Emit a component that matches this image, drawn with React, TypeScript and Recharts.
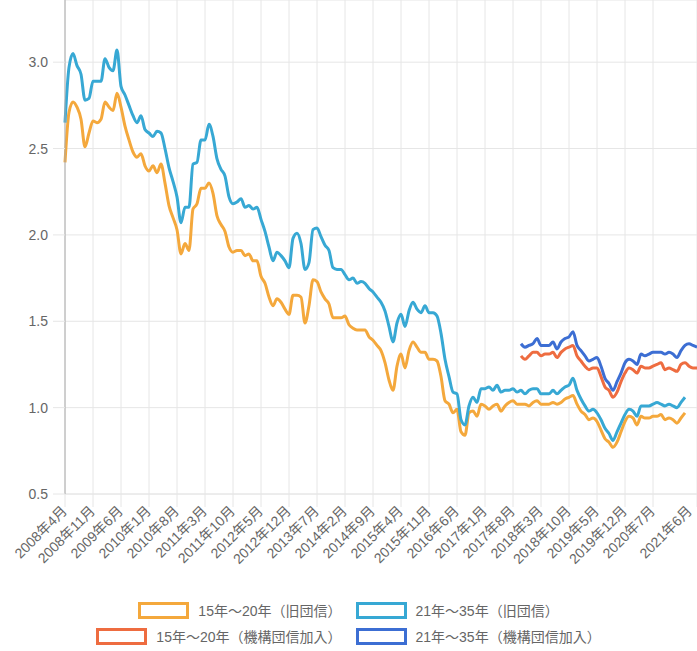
import { LineChart, Line, XAxis, YAxis, CartesianGrid, Legend } from 'recharts'

const FONT = '"Liberation Sans", Arial, "Noto Sans CJK JP", sans-serif'

// monthly categories, 2008年4月 .. 2021年6月
const START_YEAR = 2008
const START_MONTH = 4
const MONTH_COUNT = 159

const MONTHS: string[] = []
for (let i = 0; i < MONTH_COUNT; i++) {
  const m = START_MONTH - 1 + i
  MONTHS.push(`${START_YEAR + Math.floor(m / 12)}年${(m % 12) + 1}月`)
}

const TICK_LABELS = [
  '2008年4月', '2008年11月', '2009年6月', '2010年1月', '2010年8月', '2011年3月',
  '2011年10月', '2012年5月', '2012年12月', '2013年7月', '2014年2月', '2014年9月',
  '2015年4月', '2015年11月', '2016年6月', '2017年1月', '2017年8月', '2018年3月',
  '2018年10月', '2019年5月', '2019年12月', '2020年7月', '2021年6月',
]

const Y_TICKS = [0.5, 1.0, 1.5, 2.0, 2.5, 3.0]

// 旧団信: 2008年4月 〜 2021年3月
const OLD_15_20 = [
  2.42, 2.71, 2.77, 2.74, 2.67, 2.51, 2.59, 2.66, 2.65, 2.67, 2.77, 2.74,
  2.72, 2.82, 2.74, 2.63, 2.55, 2.48, 2.45, 2.47, 2.40, 2.37, 2.40, 2.36,
  2.41, 2.30, 2.17, 2.10, 2.03, 1.89, 1.95, 1.91, 2.15, 2.18, 2.27, 2.27,
  2.30, 2.24, 2.11, 2.06, 2.02, 1.93, 1.90, 1.91, 1.91, 1.88, 1.89, 1.85,
  1.85, 1.76, 1.72, 1.64, 1.59, 1.63, 1.61, 1.57, 1.54, 1.65, 1.65, 1.64,
  1.49, 1.59, 1.74, 1.73, 1.67, 1.63, 1.60, 1.52, 1.52, 1.52, 1.53, 1.48,
  1.46, 1.45, 1.45, 1.45, 1.41, 1.39, 1.36, 1.33, 1.26, 1.16, 1.10, 1.24,
  1.31, 1.23, 1.33, 1.38, 1.35, 1.32, 1.32, 1.28, 1.28, 1.27, 1.18, 1.04,
  1.02, 0.97, 0.99, 0.86, 0.84, 0.97, 0.98, 0.95, 1.02, 1.01, 0.99, 1.01,
  1.02, 0.98, 1.01, 1.03, 1.04, 1.02, 1.02, 1.02, 1.01, 1.03, 1.04, 1.02,
  1.02, 1.02, 1.03, 1.02, 1.03, 1.05, 1.06, 1.07, 1.02, 0.98, 0.96, 0.93,
  0.94, 0.92, 0.87, 0.82, 0.80, 0.77, 0.80, 0.86, 0.92, 0.95, 0.94, 0.90,
  0.95, 0.94, 0.94, 0.95, 0.95, 0.96, 0.93, 0.94, 0.93, 0.91, 0.94, 0.97,
]

const OLD_21_35 = [
  2.65, 2.97, 3.05, 2.98, 2.93, 2.78, 2.79, 2.89, 2.89, 2.89, 3.02, 2.97,
  2.95, 3.07, 2.86, 2.81, 2.75, 2.69, 2.65, 2.69, 2.61, 2.59, 2.57, 2.60,
  2.59, 2.50, 2.39, 2.31, 2.22, 2.07, 2.16, 2.16, 2.41, 2.42, 2.55, 2.55,
  2.64, 2.57, 2.44, 2.38, 2.34, 2.22, 2.18, 2.19, 2.21, 2.16, 2.17, 2.15,
  2.16, 2.09, 2.02, 1.93, 1.85, 1.90, 1.88, 1.85, 1.81, 1.98, 2.01, 1.95,
  1.80, 1.84, 2.03, 2.04, 1.99, 1.94, 1.91, 1.81, 1.80, 1.80, 1.77, 1.74,
  1.75, 1.72, 1.73, 1.72, 1.69, 1.67, 1.64, 1.61, 1.56, 1.47, 1.38, 1.49,
  1.54, 1.47, 1.56, 1.61, 1.57, 1.55, 1.59, 1.55, 1.55, 1.53, 1.43, 1.28,
  1.18, 1.09, 1.08, 0.93, 0.90, 1.01, 1.06, 1.03, 1.11, 1.11, 1.12, 1.10,
  1.13, 1.09, 1.10, 1.10, 1.11, 1.09, 1.10, 1.08, 1.10, 1.11, 1.11, 1.08,
  1.08, 1.08, 1.10, 1.08, 1.10, 1.12, 1.13, 1.17, 1.10, 1.05, 1.01, 0.98,
  0.99, 0.97, 0.93, 0.88, 0.85, 0.81, 0.86, 0.91, 0.96, 0.99, 0.98, 0.95,
  1.01, 1.01, 1.01, 1.02, 1.03, 1.02, 1.01, 1.02, 1.01, 1.00, 1.03, 1.06,
]

// 機構団信加入: 2017年10月 〜 2021年6月
const NEW_START = '2017年10月'

const NEW_15_20 = [
  1.30, 1.28, 1.30, 1.32, 1.32, 1.30, 1.31, 1.31, 1.32, 1.29, 1.32, 1.34,
  1.35, 1.36, 1.30, 1.27, 1.24, 1.22, 1.23, 1.23, 1.18, 1.12, 1.10, 1.06,
  1.09, 1.15, 1.20, 1.23, 1.22, 1.20, 1.24, 1.23, 1.23, 1.24, 1.25, 1.26,
  1.22, 1.23, 1.22, 1.21, 1.25, 1.26, 1.24, 1.23, 1.23,
]

const NEW_21_35 = [
  1.37, 1.35, 1.36, 1.37, 1.40, 1.36, 1.36, 1.36, 1.38, 1.34, 1.38, 1.40,
  1.41, 1.44, 1.36, 1.33, 1.30, 1.27, 1.28, 1.29, 1.24, 1.17, 1.14, 1.10,
  1.15, 1.20, 1.26, 1.28, 1.27, 1.25, 1.31, 1.30, 1.31, 1.32, 1.32, 1.32,
  1.31, 1.32, 1.31, 1.29, 1.33, 1.36, 1.37, 1.36, 1.35,
]

const SERIES = [
  { key: 'old1520', name: '15年～20年（旧団信）', color: '#f4a83c' },
  { key: 'old2135', name: '21年～35年（旧団信）', color: '#37a8d4' },
  { key: 'new1520', name: '15年～20年（機構団信加入）', color: '#ee6c40' },
  { key: 'new2135', name: '21年～35年（機構団信加入）', color: '#3c6ed3' },
]

const LEGEND_ROWS = [['old1520', 'old2135'], ['new1520', 'new2135']]

const newOffset = MONTHS.indexOf(NEW_START)

const data = MONTHS.map((label, i) => ({
  label,
  old1520: OLD_15_20[i] ?? null,
  old2135: OLD_21_35[i] ?? null,
  new1520: i >= newOffset ? NEW_15_20[i - newOffset] ?? null : null,
  new2135: i >= newOffset ? NEW_21_35[i - newOffset] ?? null : null,
}))

// rotated month label; the last one is pulled in so it stays inside the page
function XTick({ x, y, payload }: any) {
  const tx = Math.min(x, 690)
  return (
    <g transform={`translate(${tx},${y})`}>
      <text x={0} y={0} dy={4} textAnchor="end" transform="rotate(-45)" fill="#666" fontSize={14}>
        {payload.value}
      </text>
    </g>
  )
}

function LegendRows() {
  return (
    <div style={{ height: 60, paddingTop: 6, boxSizing: 'border-box' }}>
      {LEGEND_ROWS.map((row, r) => (
        <div
          key={r}
          style={{ display: 'flex', justifyContent: 'center', alignItems: 'center', height: 26, gap: 14 }}
        >
          {row.map((key) => {
            const s = SERIES.find((d) => d.key === key)!
            return (
              <div key={key} style={{ display: 'flex', alignItems: 'center' }}>
                <span
                  style={{
                    display: 'inline-block',
                    width: 51,
                    height: 17,
                    boxSizing: 'border-box',
                    border: `3px solid ${s.color}`,
                    background: '#fff',
                  }}
                />
                <span style={{ marginLeft: 9, fontSize: 14, color: '#666' }}>{s.name}</span>
              </div>
            )
          })}
        </div>
      ))}
    </div>
  )
}

export default function App() {
  return (
    <div style={{ position: 'absolute', left: 0, top: 0, fontFamily: FONT, background: '#fff' }}>
      <LineChart width={697} height={651} data={data} margin={{ top: 0, right: 0, bottom: 0, left: 0 }}>
        <CartesianGrid stroke="#e6e6e6" />
        <XAxis
          dataKey="label"
          ticks={TICK_LABELS}
          interval={0}
          height={97}
          tickSize={13}
          tickMargin={2}
          tick={<XTick />}
          tickLine={{ stroke: '#e6e6e6' }}
          axisLine={{ stroke: '#e6e6e6' }}
        />
        <YAxis
          domain={[0.5, 3.36]}
          allowDataOverflow
          ticks={Y_TICKS}
          width={65}
          tickSize={12}
          tickMargin={5}
          tickFormatter={(v: number) => v.toFixed(1)}
          tick={{ fill: '#666', fontSize: 14 }}
          tickLine={{ stroke: '#e6e6e6' }}
          axisLine={{ stroke: '#aaa' }}
        />
        <Legend verticalAlign="bottom" content={<LegendRows />} />
        {SERIES.map((s) => (
          <Line
            key={s.key}
            type="monotone"
            dataKey={s.key}
            name={s.name}
            stroke={s.color}
            strokeWidth={3}
            dot={false}
            activeDot={false}
            isAnimationActive={false}
          />
        ))}
      </LineChart>
    </div>
  )
}
